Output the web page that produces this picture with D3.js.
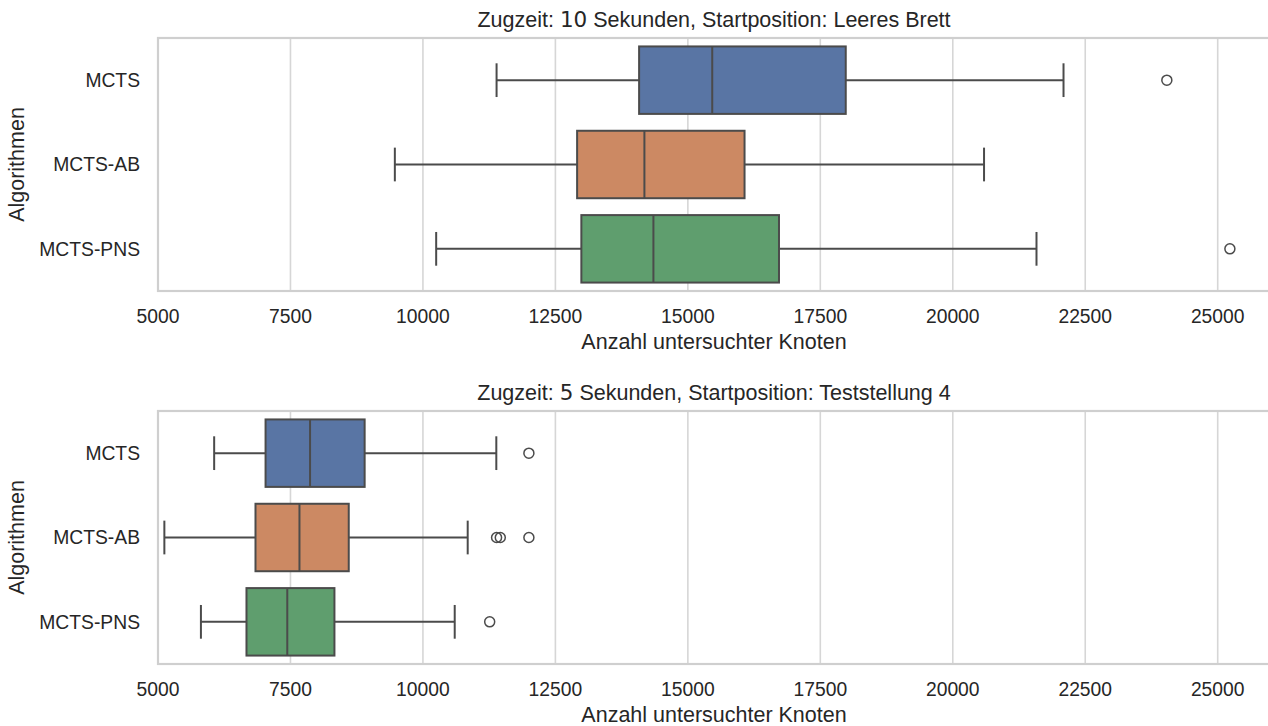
<!DOCTYPE html>
<html>
<head>
<meta charset="utf-8">
<script src="https://cdn.jsdelivr.net/npm/d3@7"></script>
<style>
  body { margin: 0; background: #fff; }
  text { font-family: "Liberation Sans", Arial, sans-serif; fill: #262626; }
</style>
</head>
<body>
<div id="chart"></div>
<script>
// box statistics
var algos = ["MCTS", "MCTS-AB", "MCTS-PNS"];
var colors = ["#5975a4", "#cc8963", "#5f9e6e"];
var xTicks = [5000, 7500, 10000, 12500, 15000, 17500, 20000, 22500, 25000];

// panel 1: 10 s, empty board
var lo10 = [11390, 9470, 10250];
var q1_10 = [14080, 12910, 12990];
var med10 = [15460, 14180, 14350];
var q3_10 = [17980, 16070, 16720];
var hi10 = [22090, 20590, 21580];
var out10 = [[24040], [], [25230]];

// panel 2: 5 s, test position 4
var lo5 = [6060, 5120, 5810];
var q1_5 = [7030, 6840, 6670];
var med5 = [7870, 7670, 7440];
var q3_5 = [8900, 8600, 8330];
var hi5 = [11385, 10845, 10600];
var out5 = [[12000], [11390, 11460, 12000], [11260]];

var panels = [
  {pre: "Zugzeit: ", num: "10", post: " Sekunden, Startposition: Leeres Brett",
   top: 38, lo: lo10, q1: q1_10, med: med10, q3: q3_10, hi: hi10, out: out10},
  {pre: "Zugzeit: ", num: "5", post: " Sekunden, Startposition: Teststellung 4",
   top: 411, lo: lo5, q1: q1_5, med: med5, q3: q3_5, hi: hi5, out: out5}
];

var width = 1268, height = 726;
var left = 158, right = 1270, panelH = 253;
var lineCol = "#4b4b4b";

var svg = d3.select("#chart").append("svg")
  .attr("width", width)
  .attr("height", height);

var x = d3.scaleLinear()
  .domain([5000, 25987])
  .range([left, right]);

panels.forEach(function(p) {
  var y = d3.scaleBand()
    .domain(algos)
    .range([p.top, p.top + panelH]);
  var bw = y.bandwidth() * 0.8;

  var g = svg.append("g");

  // vertical grid
  g.selectAll(".grid")
    .data(xTicks)
    .enter().append("line")
    .attr("x1", d => x(d)).attr("x2", d => x(d))
    .attr("y1", p.top).attr("y2", p.top + panelH)
    .attr("stroke", "#d6d6d6")
    .attr("stroke-width", 1.6);

  // frame
  g.append("rect")
    .attr("x", left).attr("y", p.top)
    .attr("width", right - left).attr("height", panelH)
    .attr("fill", "none")
    .attr("stroke", "#cfcfcf")
    .attr("stroke-width", 2.2);

  // x tick labels
  g.selectAll(".xt")
    .data(xTicks)
    .enter().append("text")
    .attr("x", d => x(d))
    .attr("y", p.top + panelH + 32)
    .attr("text-anchor", "middle")
    .style("font-size", "19.3px")
    .text(d => d);

  // y tick labels
  g.selectAll(".yt")
    .data(algos)
    .enter().append("text")
    .attr("x", 140)
    .attr("y", d => y(d) + y.bandwidth() / 2)
    .attr("dy", "0.35em")
    .attr("text-anchor", "end")
    .style("font-size", "19.3px")
    .text(d => d);

  var boxes = g.selectAll(".box")
    .data(algos)
    .enter().append("g");

  // whiskers
  boxes.append("line")
    .attr("x1", (d, i) => x(p.lo[i])).attr("x2", (d, i) => x(p.q1[i]))
    .attr("y1", d => y(d) + y.bandwidth() / 2).attr("y2", d => y(d) + y.bandwidth() / 2)
    .attr("stroke", lineCol).attr("stroke-width", 2);
  boxes.append("line")
    .attr("x1", (d, i) => x(p.q3[i])).attr("x2", (d, i) => x(p.hi[i]))
    .attr("y1", d => y(d) + y.bandwidth() / 2).attr("y2", d => y(d) + y.bandwidth() / 2)
    .attr("stroke", lineCol).attr("stroke-width", 2);
  // caps
  [p.lo, p.hi].forEach(function(arr) {
    boxes.append("line")
      .attr("x1", (d, i) => x(arr[i])).attr("x2", (d, i) => x(arr[i]))
      .attr("y1", d => y(d) + y.bandwidth() / 2 - bw / 4)
      .attr("y2", d => y(d) + y.bandwidth() / 2 + bw / 4)
      .attr("stroke", lineCol).attr("stroke-width", 2);
  });

  // box
  boxes.append("rect")
    .attr("x", (d, i) => x(p.q1[i]))
    .attr("width", (d, i) => x(p.q3[i]) - x(p.q1[i]))
    .attr("y", d => y(d) + (y.bandwidth() - bw) / 2)
    .attr("height", bw)
    .attr("fill", (d, i) => colors[i])
    .attr("stroke", lineCol).attr("stroke-width", 2);

  // median
  boxes.append("line")
    .attr("x1", (d, i) => x(p.med[i])).attr("x2", (d, i) => x(p.med[i]))
    .attr("y1", d => y(d) + (y.bandwidth() - bw) / 2)
    .attr("y2", d => y(d) + (y.bandwidth() + bw) / 2)
    .attr("stroke", lineCol).attr("stroke-width", 2);

  // outliers
  boxes.each(function(d, i) {
    d3.select(this).selectAll("circle")
      .data(p.out[i])
      .enter().append("circle")
      .attr("cx", v => x(v))
      .attr("cy", y(d) + y.bandwidth() / 2)
      .attr("r", 5)
      .attr("fill", "none")
      .attr("stroke", lineCol).attr("stroke-width", 1.5);
  });

  // title
  var t = g.append("text")
    .attr("x", (left + right) / 2)
    .attr("y", p.top - 11)
    .attr("text-anchor", "middle")
    .style("font-size", "21.5px");
  t.append("tspan").text(p.pre);
  t.append("tspan").style("font-family", "'DejaVu Sans'").text(p.num);
  t.append("tspan").text(p.post);

  // axis labels
  g.append("text")
    .attr("x", (left + right) / 2)
    .attr("y", p.top + panelH + 58)
    .attr("text-anchor", "middle")
    .style("font-size", "21.5px")
    .text("Anzahl untersuchter Knoten");

  g.append("text")
    .attr("transform", "translate(24," + (p.top + panelH / 2) + ") rotate(-90)")
    .attr("text-anchor", "middle")
    .style("font-size", "21.5px")
    .text("Algorithmen");
});
</script>
</body>
</html>
